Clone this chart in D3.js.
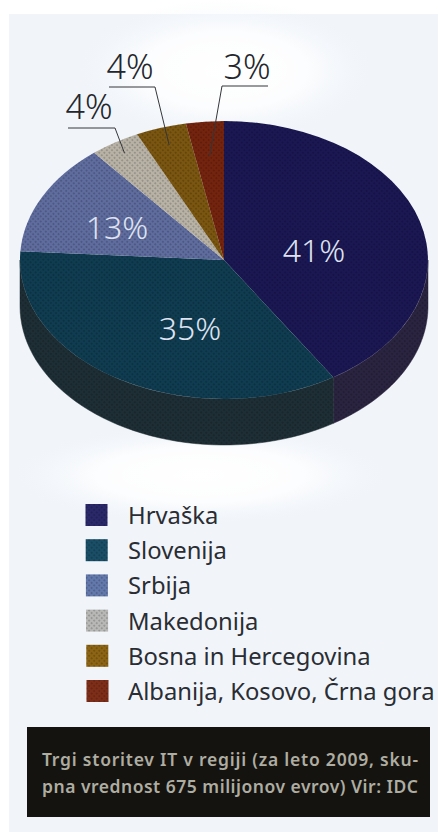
<!DOCTYPE html>
<html>
<head>
<meta charset="utf-8">
<script src="https://cdn.jsdelivr.net/npm/d3@7"></script>
<style>
html,body{margin:0;padding:0;background:#fff;}
svg{display:block;}
text{font-family:"Noto Sans",sans-serif;}
</style>
</head>
<body>
<svg id="chart" width="439" height="832"></svg>
<script>
// Regional IT services market, share by country
const categories = ["Hrvaška","Slovenija","Srbija","Makedonija","Bosna in Hercegovina","Albanija, Kosovo, Črna gora"];
const shares = [41,35,13,4,4,3];
const topColors = ["#1b1753","#0f3c50","#5f6c9e","#b8b2a6","#7a5610","#74240e"];
const sideColors = ["#2a2440","#1e2e35","#1e2e35","#1e2e35","#1e2e35","#1e2e35"];
const legendColors = ["#2a2868","#194e66","#6379ab","#b8b8b6","#8c6414","#7e2e18"];
const captionLines = ["Trgi storitev IT v regiji (za leto 2009, sku-","pna vrednost 675 milijonov evrov) Vir: IDC"];
const insideLabels = [0,1,2];

const cx = 224, cy = 260, rx = 204, ry = 139, depth = 46;
const paper = "#f1f5fa";
const svg = d3.select("#chart");
const defs = svg.append("defs");

// soft paper tone with brighter patches
const glow = defs.append("radialGradient").attr("id","paperGlow");
glow.append("stop").attr("offset","0%").attr("stop-color","#ffffff");
glow.append("stop").attr("offset","55%").attr("stop-color","#ffffff").attr("stop-opacity",0.8);
glow.append("stop").attr("offset","100%").attr("stop-color",paper).attr("stop-opacity",0);

// halftone screen laid over the printed colours
const screen = defs.append("pattern").attr("id","screen")
  .attr("width",3.6).attr("height",3.6).attr("patternUnits","userSpaceOnUse")
  .attr("patternTransform","rotate(45)");
screen.append("circle").attr("cx",1.8).attr("cy",1.8).attr("r",1).attr("fill","#000").attr("fill-opacity",0.22);

svg.append("rect").attr("x",9).attr("y",14).attr("width",429).attr("height",818).attr("fill",paper);
svg.append("ellipse").attr("cx",225).attr("cy",70).attr("rx",150).attr("ry",70).attr("fill","url(#paperGlow)");
svg.append("ellipse").attr("cx",200).attr("cy",475).attr("rx",190).attr("ry",50).attr("fill","url(#paperGlow)");

const arcs = d3.pie().value(d => d).sort(null)(shares);
const point = (a, r = 1) => [cx + Math.sin(a) * rx * r, cy - Math.cos(a) * ry * r];

// extruded rim: only the part of each slice facing the viewer
const rimArcs = arcs.map((d,i) => ({
  i, a0: Math.max(d.startAngle, Math.PI/2), a1: Math.min(d.endAngle, 3*Math.PI/2)
})).filter(d => d.a1 > d.a0);

const rimPath = d => {
  const n = 48;
  const ts = d3.range(n + 1).map(k => d.a0 + (d.a1 - d.a0) * k / n);
  const top = ts.map(t => point(t));
  const bottom = ts.slice().reverse().map(t => { const p = point(t); return [p[0], p[1] + depth]; });
  return d3.line()(top.concat(bottom)) + "Z";
};
const rim = svg.append("g");
rim.selectAll("path.base").data(rimArcs).join("path").attr("class","base")
  .attr("d", rimPath).attr("fill", d => sideColors[d.i]).attr("stroke", d => sideColors[d.i]).attr("stroke-width",0.5);
rim.selectAll("path.dots").data(rimArcs).join("path").attr("class","dots")
  .attr("d", rimPath).attr("fill","url(#screen)");

// top face: unit-radius arcs squashed into an ellipse
const arc = d3.arc().innerRadius(0).outerRadius(1);
const face = svg.append("g").attr("transform",`translate(${cx},${cy}) scale(${rx},${ry})`);
face.selectAll("path").data(arcs).join("path").attr("d", arc).attr("fill",(d,i)=>topColors[i]);
svg.append("g").selectAll("path").data(arcs).join("path")
  .attr("d", d => {
    const n = 40, pts = [[cx,cy]];
    for (let k = 0; k <= n; k++) pts.push(point(d.startAngle + (d.endAngle - d.startAngle) * k / n));
    return d3.line()(pts) + "Z";
  })
  .attr("fill","url(#screen)");

// percentages sitting on the large slices
const labelPos = [[314,262],[190,340],[117,239]];
svg.append("g").selectAll("text").data(insideLabels).join("text")
  .attr("x", i => labelPos[i][0]).attr("y", i => labelPos[i][1])
  .attr("text-anchor","middle").attr("font-size",32).attr("font-weight",300)
  .attr("fill","#dfe2f0").text(i => shares[i] + "%");

// percentages held outside with leader lines
const outside = [
  {i:3, tx:89, ty:119, far:68, elbow:115, ly:128, reach:0.91},
  {i:4, tx:130, ty:79, far:109, elbow:155, ly:87, reach:0.87},
  {i:5, tx:247, ty:79, far:268, elbow:222, ly:86, reach:0.75}
];
const callouts = svg.append("g");
callouts.selectAll("text").data(outside).join("text")
  .attr("x", d => d.tx).attr("y", d => d.ty).attr("text-anchor","middle")
  .attr("font-size",34).attr("font-weight",300).attr("fill","#23262c").text(d => shares[d.i] + "%");
callouts.selectAll("path").data(outside).join("path")
  .attr("fill","none").attr("stroke","#34363a").attr("stroke-width",1)
  .attr("d", d => {
    const s = arcs[d.i];
    const tip = point((s.startAngle + s.endAngle) / 2, d.reach);
    return d3.line()([[d.far, d.ly], [d.elbow, d.ly], tip]);
  });

// legend
const legendY = d3.scalePoint().domain(categories).range([515,691]);
const legend = svg.append("g").selectAll("g").data(categories).join("g")
  .attr("transform", d => `translate(0,${legendY(d)})`);
legend.append("rect").attr("x",(d,i)=>85.5 + i*0.2).attr("y",-11).attr("width",22).attr("height",22)
  .attr("fill",(d,i)=>legendColors[i]);
legend.append("rect").attr("x",(d,i)=>85.5 + i*0.2).attr("y",-11).attr("width",22).attr("height",22)
  .attr("fill","url(#screen)");
legend.append("text").attr("x",128).attr("y",9).attr("font-size",23.8).attr("fill","#2a2d33").text(d => d);

// source caption
svg.append("rect").attr("x",27).attr("y",727).attr("width",403).attr("height",90).attr("fill","#15130f");
svg.append("g").selectAll("text").data(captionLines).join("text")
  .attr("x",42).attr("y",(d,i)=>766 + i*27).attr("font-size",17.5).attr("font-weight",600)
  .attr("textLength",376).attr("lengthAdjust","spacing")
  .attr("fill","#aeada2").text(d => d);
</script>
</body>
</html>
